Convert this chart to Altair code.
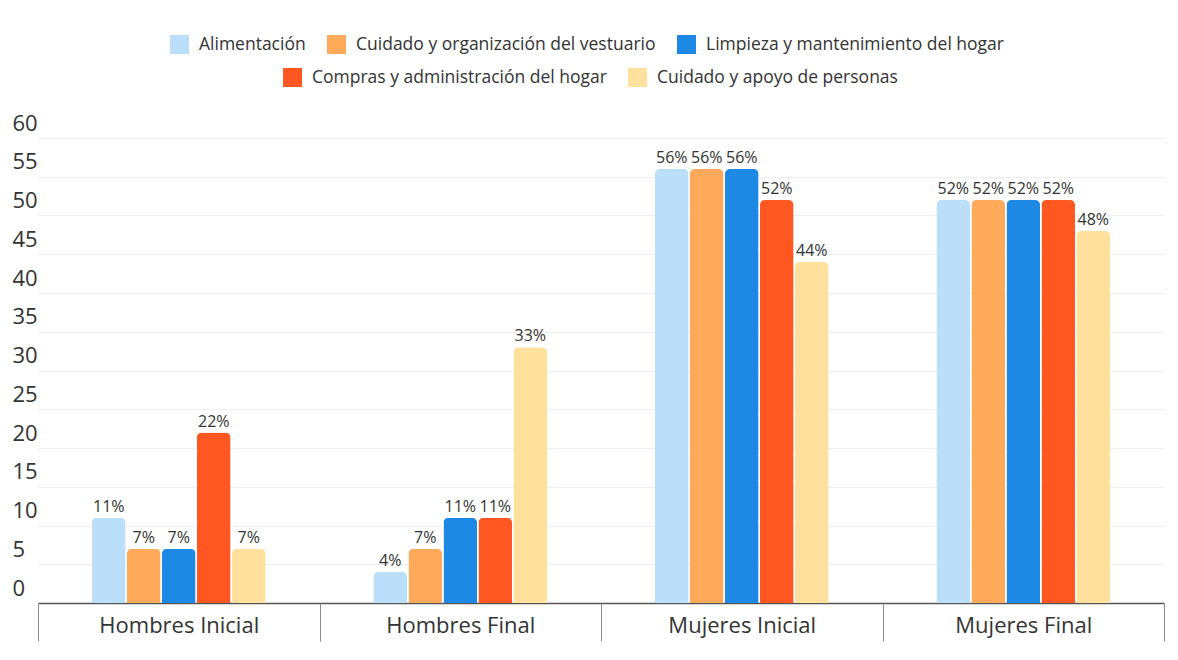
import altair as alt
import pandas as pd

groups = ["Hombres Inicial", "Hombres Final", "Mujeres Inicial", "Mujeres Final"]
categories = [
    "Alimentación",
    "Cuidado y organización del vestuario",
    "Limpieza y mantenimiento del hogar",
    "Compras y administración del hogar",
    "Cuidado y apoyo de personas",
]
colors = ["#BBDEFB", "#FFA95A", "#1E88E5", "#FF5722", "#FFE09C"]

alimentacion = [11, 4, 56, 52]
vestuario = [7, 7, 56, 52]
limpieza = [7, 11, 56, 52]
compras = [22, 11, 52, 52]
personas = [7, 33, 44, 48]

y_ticks = [0, 5, 10, 15, 20, 25, 30, 35, 40, 45, 50, 55, 60]

series = [alimentacion, vestuario, limpieza, compras, personas]
rows = []
for cat, vals in zip(categories, series):
    for g, v in zip(groups, vals):
        rows.append({"grupo": g, "cat": cat, "valor": v, "label": f"{v}%"})
df = pd.DataFrame(rows)

FONT = "Open Sans"
TXT = "#333333"

x_enc = alt.X(
    "grupo:N",
    sort=groups,
    title=None,
    scale=alt.Scale(domain=groups, range=[28, 1154], paddingInner=0, paddingOuter=0),
    axis=alt.Axis(
        domain=False,
        grid=False,
        ticks=True,
        tickBand="extent",
        tickColor="#8a8a8a",
        tickWidth=1,
        tickSize=38,
        labelFont=FONT,
        labelFontSize=22,
        labelColor=TXT,
        labelBaseline="alphabetic",
        labelPadding=-9,
        labelAngle=0,
    ),
)
xo_enc = alt.XOffset(
    "cat:N",
    scale=alt.Scale(domain=categories, range=[53.25, 228.25], paddingInner=0.04, paddingOuter=0.02),
)
y_enc = alt.Y(
    "valor:Q",
    title=None,
    scale=alt.Scale(domain=[0, 60], nice=False),
    axis=alt.Axis(
        values=y_ticks,
        domain=False,
        ticks=False,
        tickSize=0,
        grid=True,
        gridColor={"condition": {"test": "datum.value === 0", "value": "#555555"}, "value": "#efefef"},
        gridWidth={"condition": {"test": "datum.value === 0", "value": 1.5}, "value": 1},
        labelFont=FONT,
        labelFontSize=22,
        labelColor=TXT,
        labelAlign="left",
        labelBaseline="alphabetic",
        labelPadding=-2,
        labelOffset=-8,
        labelBound=False,
        labelFlush=False,
        labelOverlap=False,
    ),
)


def legend(x, y):
    return alt.Legend(
        orient="none",
        legendX=x,
        legendY=y,
        direction="horizontal",
        title=None,
        symbolType="square",
        symbolSize=361,
        symbolStrokeWidth=0,
        symbolOpacity=1,
        labelFont=FONT,
        labelFontSize=17.5,
        labelColor=TXT,
        labelLimit=600,
        labelOffset=10,
        columnPadding=21,
        padding=0,
    )


bars_a = (
    alt.Chart(df)
    .transform_filter(alt.FieldOneOfPredicate(field="cat", oneOf=categories[:3]))
    .mark_bar(cornerRadiusTopLeft=5, cornerRadiusTopRight=5)
    .encode(
        x=x_enc,
        xOffset=xo_enc,
        y=y_enc,
        color=alt.Color(
            "cat:N",
            scale=alt.Scale(domain=categories[:3], range=colors[:3]),
            legend=legend(160, -103),
        ),
    )
)

bars_b = (
    alt.Chart(df)
    .transform_filter(alt.FieldOneOfPredicate(field="cat", oneOf=categories[3:]))
    .mark_bar(cornerRadiusTopLeft=5, cornerRadiusTopRight=5)
    .encode(
        x=x_enc,
        xOffset=xo_enc,
        y=y_enc,
        color=alt.Color(
            "cat:N",
            scale=alt.Scale(domain=categories[3:], range=colors[3:]),
            legend=legend(273, -70),
        ),
    )
)

labels = (
    alt.Chart(df)
    .mark_text(dy=-6, baseline="alphabetic", font=FONT, fontSize=16, color=TXT)
    .encode(x=x_enc, xOffset=xo_enc, y=y_enc, text="label:N")
)

chart = (
    alt.layer(bars_a, bars_b, labels)
    .resolve_scale(color="independent")
    .properties(
        width=1154,
        height=465,
        background="white",
        padding={"left": 2, "top": 27, "right": 5, "bottom": 5},
    )
    .configure_view(stroke=None, strokeWidth=0)
)

chart.save("out.html", embed_options={"renderer": "svg", "actions": False})
